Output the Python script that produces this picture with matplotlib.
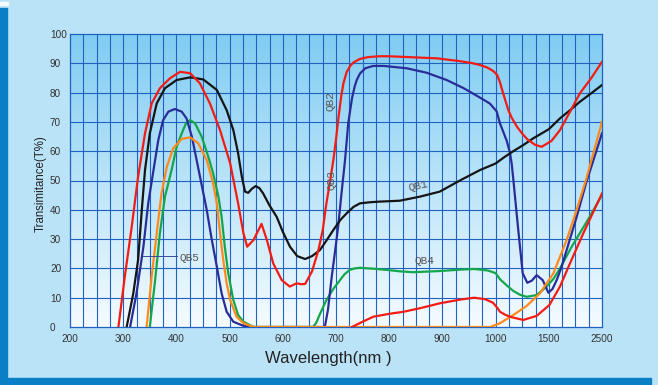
import matplotlib
matplotlib.use("Agg")
import matplotlib.pyplot as plt
import numpy as np
from matplotlib.patches import Rectangle

# x axis is not linear: equal spacing between these tick values
tick_nm = [200, 300, 400, 500, 600, 700, 800, 900, 1000, 1500, 2500]
tick_labels = ["200", "300", "400", "500", "600", "700", "800", "900", "1000", "1500", "2500"]
y_ticks = [0, 10, 20, 30, 40, 50, 60, 70, 80, 90, 100]

# QB2 (upper red)
qb2_nm = [291, 303, 316, 328, 341, 353.5, 369, 388, 407, 426, 444, 463, 482, 501, 516, 526, 533, 545, 560,
          570, 582, 598, 613, 626, 635, 642, 655, 667, 675, 682, 689, 695, 700, 705, 710, 714, 720, 727, 733,
          745, 760, 780, 800, 850, 889, 930, 955, 971, 985, 996, 1015, 1041, 1065, 1090, 1120, 1150, 1200,
          1250, 1300, 1370, 1433, 1550, 1710, 1900, 2086, 2300, 2500]
qb2_t = [0, 17.2, 34.2, 51.3, 66.1, 76.3, 81.5, 84.9, 87.1, 86.6, 83.2, 76.3, 67.2, 55.9, 42.2, 32, 27.4, 29.7, 35.2,
         29.7, 21.7, 16, 13.8, 14.9, 14.6, 14.7, 19, 26.3, 33, 42.2, 50, 57, 64, 72, 79, 83.2, 87, 89.2, 90.3,
         91.5, 92.1, 92.4, 92.4, 92, 91.7, 90.8, 90.1, 89.4, 88.5, 87.3, 86, 83.5, 80.5, 77.5, 74, 71.5, 68.4,
         66, 64, 62.2, 61.5, 63.5, 67.2, 73.5, 79.8, 85, 90.5]

# QB1 (black)
qb1_nm = [306.5, 319, 328, 335, 341, 350, 363, 378.5, 400.5, 426, 450.5, 476, 494.5, 507, 516, 523, 529,
          535, 542, 549, 556, 563, 575, 588.5, 600, 613.5, 627, 642, 655, 670, 682, 695, 708, 720, 733,
          745, 765, 783, 820, 858, 895, 935, 971, 1000, 1083, 1166, 1260, 1354, 1500, 1710, 1900, 2086,
          2300, 2500]
qb1_t = [0, 11.5, 22.9, 40, 53.6, 66.1, 76.3, 81.5, 84.3, 85.2, 84.5, 80.9, 74, 67.2, 59.3, 51.3, 46.2,
         45.8, 47.2, 48.1, 47.4, 45.6, 41.5, 37.6, 32.5, 27.4, 24.2, 23.2, 24.2, 26.3, 29.5, 33.1, 36.5, 38.8, 41,
         42.2, 42.6, 42.8, 43.1, 44.5, 46.2, 50.2, 53.6, 55.8, 58, 60, 62.1, 64.4, 67.5, 71.2, 74, 76.9,
         79.8, 82.6]

# QB5 + QB3 (navy)
qb3_nm = [313, 325, 338, 347, 357, 366, 375, 385, 397, 410, 419, 429, 438, 447.5, 457, 466, 476, 485,
          494.5, 507, 526, 538, 679, 685, 692, 698, 704, 710, 717, 723, 730, 735, 739, 745, 755, 770, 790,
          833, 870, 908, 940, 964, 989, 1010, 1041, 1070, 1104, 1135, 1152, 1167, 1213, 1255, 1298, 1340,
          1386, 1443, 1496, 1570, 1648, 1740, 1836, 2024, 2199, 2500]
qb3_t = [0, 11.5, 27.4, 42.2, 53.6, 63.8, 70.6, 73.5, 74.4, 73.5, 71.2, 65, 57, 48.5, 40, 30.3, 20.6, 11.5,
         5.2, 1.8, 0.4, 0, 0, 6, 17.2, 25.5, 34.2, 45, 57, 69.5, 78, 82, 84.3, 86.5, 88.3, 89.1, 89.1,
         88.3, 86.8, 84.3, 81.5, 79, 76.3, 73.6, 69.5, 66.8, 63.6, 59.5, 55.5, 50.2, 33.1, 18.3, 15.1, 15.8,
         17.7, 16, 11.7, 13, 16, 20.5, 26.3, 37.6, 49, 66.1]

# orange
org_nm = [344, 353.5, 363, 372, 382, 394, 410, 426, 441, 457, 469, 476, 482, 488, 494.5, 501, 513,
          526, 545, 990, 1041, 1167, 1292, 1417, 1585, 1836, 2024, 2199, 2500]
org_t = [0, 17.2, 32, 45.6, 54.7, 61, 64.2, 64.7, 62.7, 57, 49, 42.2, 32, 22.9, 14.9, 9.2, 3.5,
         1.3, 0, 0, 1.3, 4.1, 7.2, 11.5, 18.3, 29.7, 40, 50.2, 70]

# QB4 (green)
qb4_nm = [350, 360, 369, 378.5, 391, 400.5, 410, 418, 426, 435, 447.5, 460, 469, 479, 485, 491, 497.5,
          507, 516, 526, 545, 657, 663, 670, 682, 695, 707.5, 716, 726, 735, 745, 770, 795, 820, 845, 870,
          895.5, 935, 960, 985, 1000, 1041, 1117, 1167, 1230, 1292, 1386, 1480, 1590, 1710, 1930, 2212, 2500]
qb4_t = [0, 16, 32, 44.5, 53.6, 61.5, 66.1, 69.5, 70.6, 69.5, 65, 58.1, 52.5, 44.5, 37.6, 27.4, 18.3,
         9.2, 4.1, 1.8, 0, 0, 1.5, 4.5, 9.2, 13, 16, 18, 19.5, 20, 20.2, 19.9, 19.5, 19, 18.7, 18.9,
         19.1, 19.6, 19.8, 19.3, 18.4, 16.3, 13.8, 12.3, 11, 10.3, 10.9, 13.8, 16.5, 20, 27.4, 35.9, 45]

# lower red
red2_nm = [730, 750, 770, 800, 827, 860, 895.5, 935, 960, 980, 995, 1015, 1041, 1090, 1135, 1260, 1386,
           1511, 1710, 1898, 2149, 2500]
red2_t = [0, 1.8, 3.5, 4.5, 5.2, 6.5, 8.1, 9.4, 10, 9.5, 8.3, 6.6, 5.2, 4.2, 3.5, 2.4, 3.8,
          7.5, 13.8, 21.7, 32, 45.6]


def pos(nm):
    return np.interp(nm, tick_nm, np.arange(len(tick_nm)))


fig = plt.figure(figsize=(6.58, 3.85), dpi=100)
fig.patch.set_facecolor("#bae3f8")
# frame strips
fig.patches.append(Rectangle((0, 0), 7 / 658, 377 / 385, transform=fig.transFigure, color="#0a7fc6", zorder=0))
fig.patches.append(Rectangle((0, 0), 651 / 658, 7 / 385, transform=fig.transFigure, color="#0a7fc6", zorder=0))
fig.patches.append(Rectangle((0, 380 / 385), 8 / 658, 3 / 385, transform=fig.transFigure, color="#f4fbff", zorder=0))

ax = fig.add_axes([70 / 658, 58 / 385, 532 / 658, 293 / 385])

grad = np.linspace(0, 1, 256).reshape(-1, 1)
top = np.array([0.50, 0.80, 0.95])
bot = np.array([0.96, 0.985, 1.0])
img = top[None, None, :] * (1 - grad[:, :, None]) + bot[None, None, :] * grad[:, :, None]
ax.imshow(img, extent=[0, 10, 0, 100], origin="upper", aspect="auto", zorder=0)
ax.set_xlim(0, 10)
ax.set_ylim(0, 100)

gc = "#1f62c0"
for v in np.arange(0.25, 10, 0.25):
    ax.axvline(v, color=gc, lw=0.8, zorder=1)
for v in y_ticks[1:-1]:
    ax.axhline(v, color=gc, lw=0.8, zorder=1)
for s in ax.spines.values():
    s.set_color(gc)
    s.set_linewidth(0.9)

lw = 1.6
ax.plot(pos(qb4_nm), qb4_t, color="#14a64a", lw=lw, zorder=3)
ax.plot(pos(qb3_nm), qb3_t, color="#2a2d98", lw=lw, zorder=3)
ax.plot(pos(org_nm), org_t, color="#ff8a1c", lw=lw, zorder=3)
ax.plot(pos(red2_nm), red2_t, color="#f21c14", lw=lw, zorder=3)
ax.plot(pos(qb1_nm), qb1_t, color="#151515", lw=lw, zorder=3)
ax.plot(pos(qb2_nm), qb2_t, color="#f21c14", lw=lw, zorder=3)

lab = dict(family="Liberation Mono", fontsize=8, color="#555555", zorder=4)
ax.text(pos(689), 77, "QB2", rotation=90, ha="center", va="center", **lab)
ax.text(pos(692), 50, "QB3", rotation=90, ha="center", va="center", **lab)
ax.text(pos(854), 48, "QB1", rotation=12, ha="center", va="center", **lab)
ax.text(pos(867), 22.5, "QB4", ha="center", va="center", **lab)
ax.text(pos(405), 23.6, "QB5", ha="left", va="center", **lab)
ax.plot([pos(337), pos(401)], [24.3, 24.3], color="#3a4a9a", lw=0.7, zorder=4)

ax.set_xticks(range(len(tick_nm)))
ax.set_xticklabels(tick_labels, family="Liberation Sans", fontsize=7.2, color="#333333")
ax.set_yticks(y_ticks)
ax.set_yticklabels([str(v) for v in y_ticks], family="Liberation Sans", fontsize=7.2, color="#333333")
ax.tick_params(axis="both", length=0)
ax.tick_params(axis="x", pad=5)
ax.tick_params(axis="y", pad=14.4)
for t in ax.get_yticklabels():
    t.set_horizontalalignment("left")

fig.text(328 / 658, 1 - 358 / 385, "Wavelength(nm )", ha="center", va="center",
         family="Liberation Sans", fontsize=12, color="#222222")
fig.text(41 / 658, 1 - 184 / 385, "Transimitance(T%)", ha="center", va="center", rotation=90,
         family="Liberation Sans", fontsize=8.3, color="#222222")

fig.savefig("out.png", dpi=100, facecolor=fig.get_facecolor())
